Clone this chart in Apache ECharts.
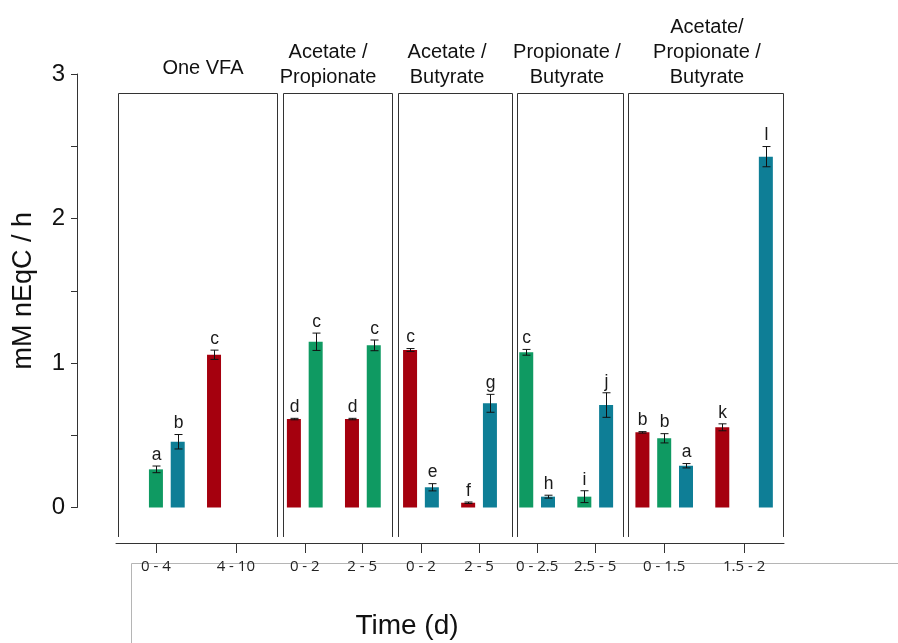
<!DOCTYPE html>
<html>
<head>
<meta charset="utf-8">
<script src="https://cdn.jsdelivr.net/npm/echarts@6/dist/echarts.min.js"></script>
<style>
html,body{margin:0;padding:0;background:#fff;}
#chart{width:898px;height:643px;}
</style>
</head>
<body>
<div id="chart"></div>
<script>
// ---------------- data ----------------
const panelTitles = ['One VFA', 'Acetate /\nPropionate', 'Acetate /\nButyrate', 'Propionate /\nButyrate', 'Acetate/\nPropionate /\nButyrate'];
const timeLabels = ['0 - 4', '4 - 10', '0 - 2', '2 - 5', '0 - 2', '2 - 5', '0 - 2.5', '2.5 - 5', '0 - 1.5', '1.5 - 2'];
const substrates = ['Acetate', 'Propionate', 'Butyrate'];
const barSubstrate = ['Propionate', 'Butyrate', 'Acetate',
  'Acetate', 'Propionate', 'Acetate', 'Propionate',
  'Acetate', 'Butyrate', 'Acetate', 'Butyrate',
  'Propionate', 'Butyrate', 'Propionate', 'Butyrate',
  'Acetate', 'Propionate', 'Butyrate', 'Acetate', 'Butyrate'];
const barRates = [0.264, 0.455, 1.057,
  0.612, 1.147, 0.612, 1.122,
  1.090, 0.140, 0.033, 0.721,
  1.074, 0.075, 0.075, 0.709,
  0.520, 0.479, 0.289, 0.555, 2.428];
const barErrors = [0.023, 0.050, 0.032,
  0.005, 0.060, 0.005, 0.037,
  0.010, 0.025, 0.005, 0.062,
  0.020, 0.010, 0.041, 0.085,
  0.005, 0.032, 0.015, 0.024, 0.070];
const barLetters = ['a', 'b', 'c',
  'd', 'c', 'd', 'c',
  'c', 'e', 'f', 'g',
  'c', 'h', 'i', 'j',
  'b', 'b', 'a', 'k', 'l'];

// ---------------- layout ----------------
const SLOT_COUNT = 92;
const barSlots = [5, 8, 13, 24, 27, 32, 35, 40, 43, 48, 51, 56, 59, 64, 67, 72, 75, 78, 83, 89];
const tickPos = [5.5, 16.5, 26, 33.9, 42, 50, 58, 66, 75.5, 86.5];
const panelEdges = [[0.28, 22.17], [23.0, 38.0], [38.84, 54.54], [55.23, 69.83], [70.5, 91.85]];
const headerPos = [11.98, 29.2, 45.59, 62.11, 81.39];
const PANEL_TOP = 2.869, PANEL_BOTTOM = -0.204;
const colors = { Acetate: '#A5000E', Propionate: '#0F9A62', Butyrate: '#0E7E96' };

const slotCats = Array.from({ length: SLOT_COUNT }, (_, i) => String(i));

const barSeries = substrates.map(s => {
  const d = Array(SLOT_COUNT).fill(null);
  barSubstrate.forEach((b, i) => { if (b === s) d[barSlots[i]] = barRates[i]; });
  return {
    name: s, type: 'bar', xAxisIndex: 0, yAxisIndex: 0,
    data: d, barWidth: 14, barGap: '-100%',
    itemStyle: { color: colors[s] }, z: 2
  };
});

const errSeries = {
  type: 'custom', xAxisIndex: 0, yAxisIndex: 0, z: 5,
  data: barSlots.map((s, i) => [s, barRates[i], barErrors[i], i]),
  encode: { x: 0, y: 1 },
  renderItem: function (params, api) {
    const c = api.value(0), v = api.value(1), e = api.value(2), idx = api.value(3);
    const t = api.coord([c, v + e]);
    const b = api.coord([c, v - e]);
    const x = Math.round(t[0]) + 0.5;
    const hw = 4;
    const ls = { stroke: '#111', lineWidth: 1 };
    return {
      type: 'group',
      children: [
        { type: 'line', shape: { x1: x, y1: t[1], x2: x, y2: b[1] }, style: ls },
        { type: 'line', shape: { x1: x - hw, y1: t[1], x2: x + hw, y2: t[1] }, style: ls },
        { type: 'line', shape: { x1: x - hw, y1: b[1], x2: x + hw, y2: b[1] }, style: ls },
        { type: 'text', style: { text: barLetters[idx], x: x, y: t[1] - 2, align: 'center', verticalAlign: 'bottom',
          fontSize: 17.5, fontFamily: 'Liberation Sans, Arial, sans-serif', fill: '#1a1a1a' } }
      ]
    };
  }
};

const panelSeries = {
  type: 'custom', xAxisIndex: 1, yAxisIndex: 0, z: 1,
  data: panelEdges.map((p, i) => [p[0], p[1], i]),
  encode: { x: [0, 1] },
  renderItem: function (params, api) {
    const x0 = api.value(0), x1 = api.value(1), idx = api.value(2);
    const lt = api.coord([x0, PANEL_TOP]), rt = api.coord([x1, PANEL_TOP]);
    const lb = api.coord([x0, PANEL_BOTTOM]), rb = api.coord([x1, PANEL_BOTTOM]);
    const xl = Math.round(lt[0]) + 0.5, xr = Math.round(rt[0]) + 0.5, yt = Math.round(lt[1]) + 0.5;
    const hx = api.coord([headerPos[idx], PANEL_TOP])[0];
    const nLines = panelTitles[idx].split('\n').length;
    return {
      type: 'group',
      children: [
        { type: 'polyline', shape: { points: [[xl, lb[1]], [xl, yt], [xr, yt], [xr, rb[1]]] },
          style: { stroke: '#333', lineWidth: 1, fill: null } },
        { type: 'text', style: { text: panelTitles[idx], x: hx, y: yt - (nLines > 1 ? 4 : 13),
          align: 'center', verticalAlign: 'bottom', lineHeight: 25,
          fontSize: 20, fontFamily: 'Liberation Sans, Arial, sans-serif', fill: '#111' } }
      ]
    };
  }
};

const chart = echarts.init(document.getElementById('chart'), null, { renderer: 'canvas' });
chart.setOption({
  backgroundColor: '#fff',
  animation: false,
  grid: { left: 116, right: 114, top: 74, bottom: 135.5, containLabel: false },
  xAxis: [
    { type: 'category', data: slotCats, show: false, boundaryGap: true, gridIndex: 0 },
    {
      type: 'value', min: 0, max: SLOT_COUNT, gridIndex: 0, position: 'bottom', offset: 35.5,
      axisLine: { show: true, onZero: false, lineStyle: { color: '#333', width: 1 } },
      axisTick: { show: true, length: 10, customValues: tickPos, lineStyle: { color: '#333', width: 1 } },
      axisLabel: {
        customValues: tickPos, margin: 16,
        formatter: function (v) { const i = tickPos.indexOf(v); return i >= 0 ? timeLabels[i] : ''; },
        fontFamily: 'Open Sans, sans-serif', fontSize: 15, color: '#222'
      },
      splitLine: { show: false }
    }
  ],
  yAxis: [{
    type: 'value', min: 0, max: 3, interval: 1, position: 'left', offset: 39,
    axisLine: { show: true, onZero: false, lineStyle: { color: '#333', width: 1 } },
    axisTick: { show: true, length: 6, lineStyle: { color: '#333' } },
    minorTick: { show: true, splitNumber: 2, length: 6, lineStyle: { color: '#333' } },
    axisLabel: { fontSize: 24, color: '#111', margin: 12, fontFamily: 'Liberation Sans, Arial, sans-serif' },
    splitLine: { show: false },
    name: 'mM nEqC / h', nameLocation: 'middle', nameGap: 40, nameRotate: 90,
    nameTextStyle: { fontSize: 27, color: '#111', fontFamily: 'Liberation Sans, Arial, sans-serif' }
  }],
  graphic: [
    { type: 'rect', z: -5, silent: true, shape: { x: 131.5, y: 563.5, width: 900, height: 200 },
      style: { fill: null, stroke: '#b5b5b5', lineWidth: 1 } },
    { type: 'text', silent: true, style: { text: 'Time (d)', x: 407, y: 626, align: 'center', verticalAlign: 'middle',
      fontSize: 28, fontFamily: 'Liberation Sans, Arial, sans-serif', fill: '#111' } }
  ],
  series: [panelSeries].concat(barSeries, [errSeries])
});
</script>
</body>
</html>
